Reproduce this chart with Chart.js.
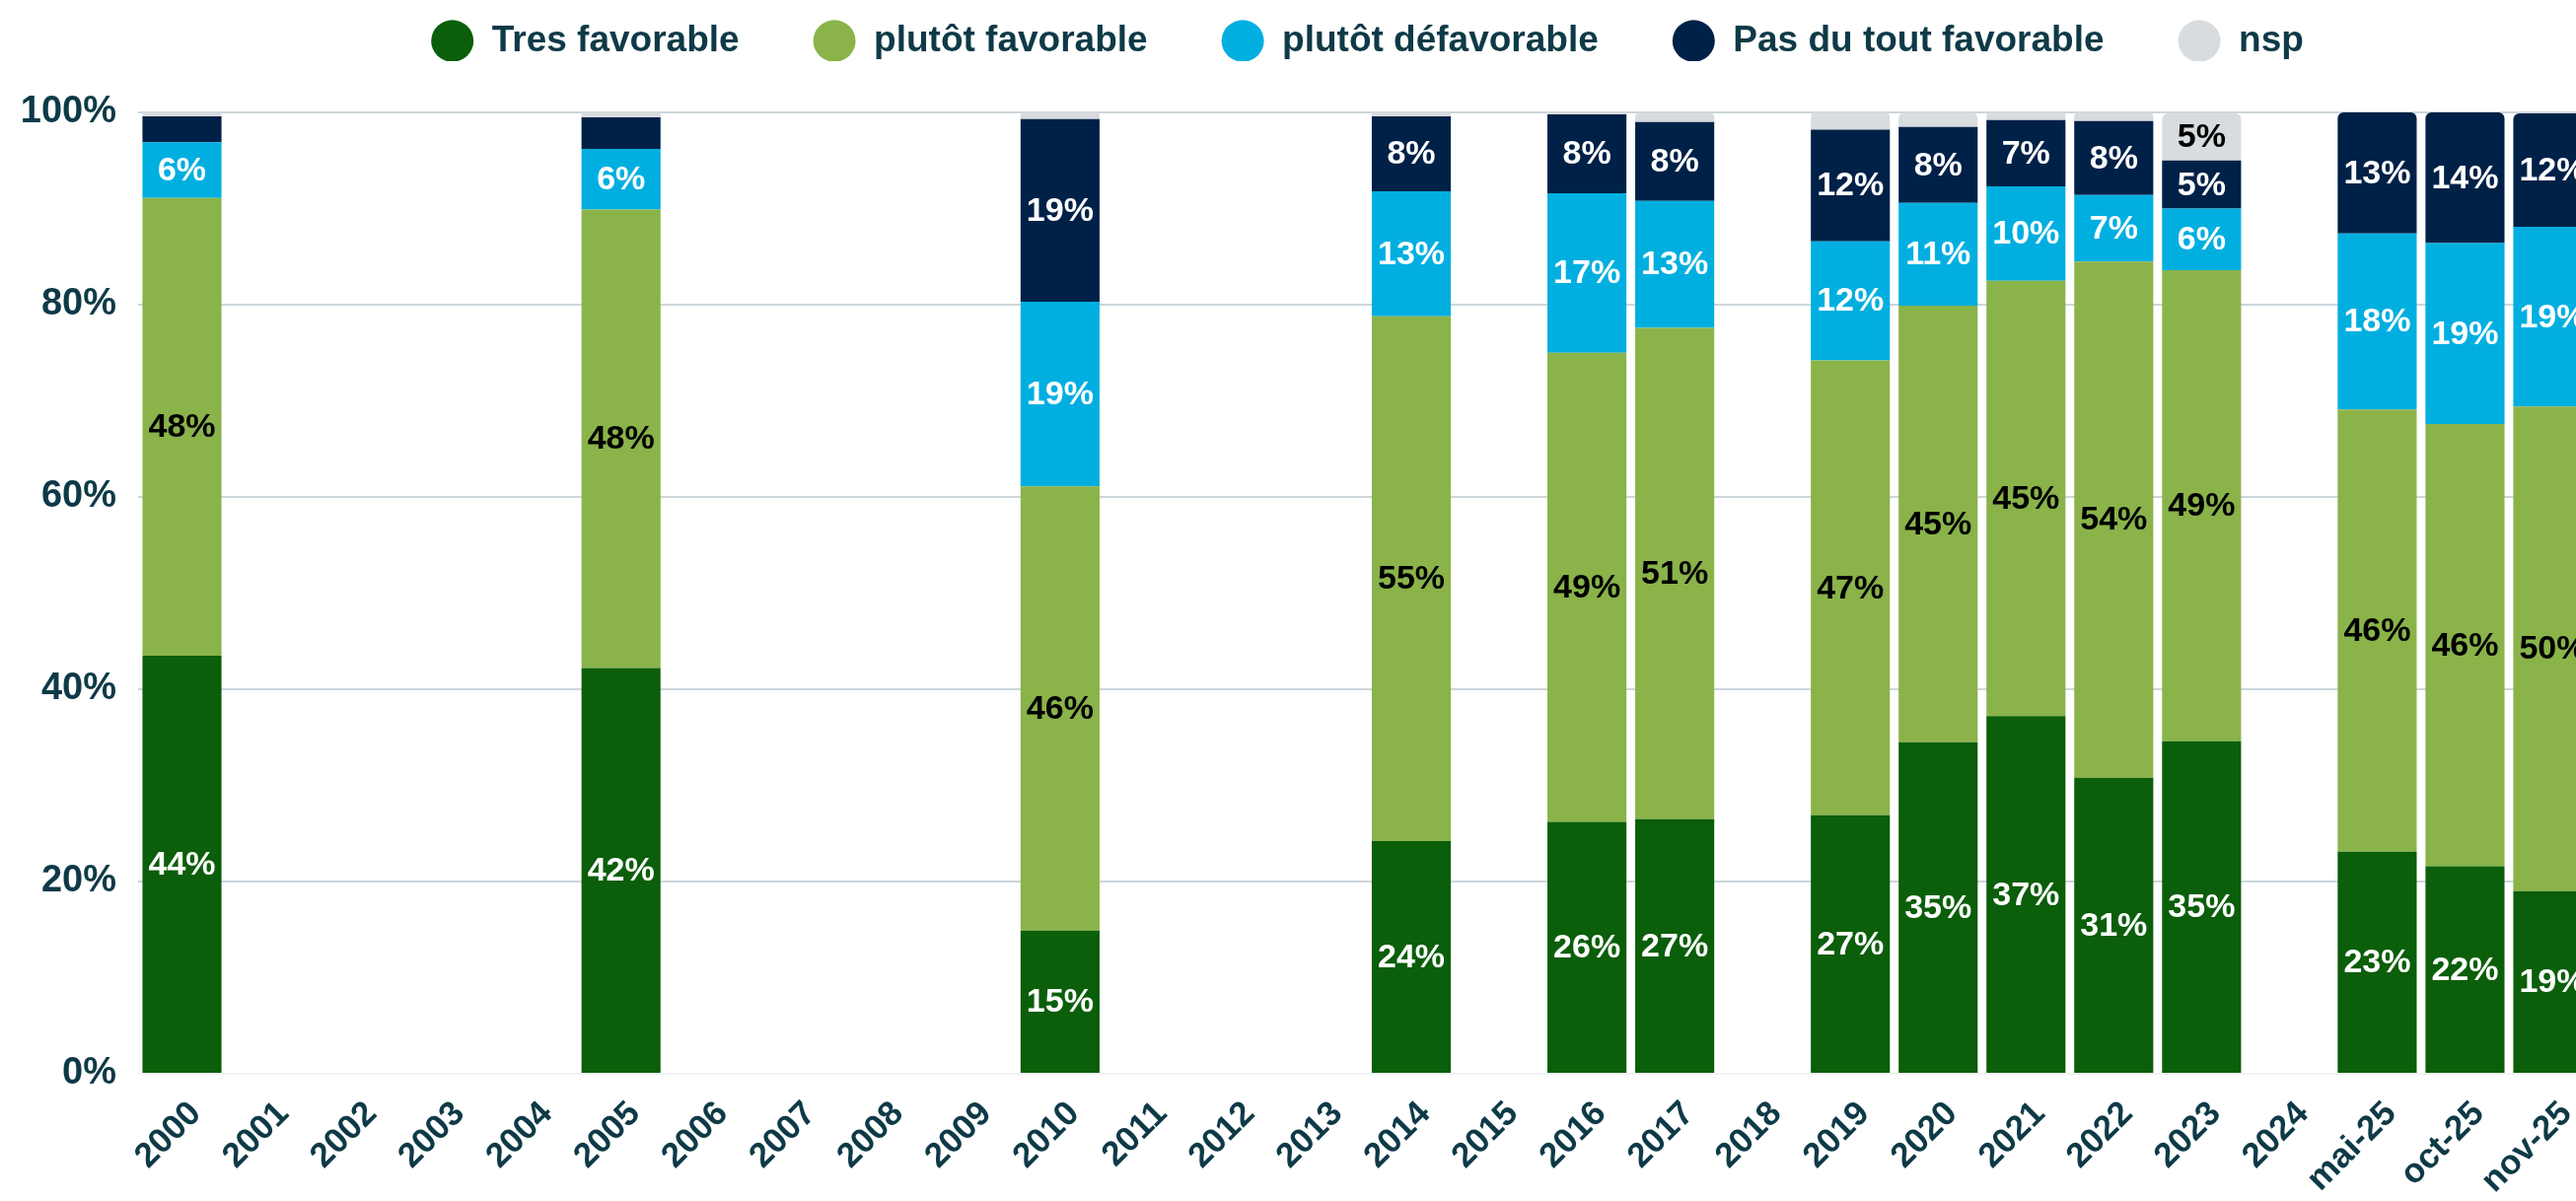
<!DOCTYPE html>
<html lang="fr">
<head>
<meta charset="utf-8">
<title>Opinion</title>
<script src="https://cdn.jsdelivr.net/npm/chart.js@4"></script>
<style>
    html, body { margin: 0; padding: 0; background: #ffffff; overflow: hidden; }
    canvas { display: block; }
</style>
</head>
<body>
<canvas id="opinionChart" width="2633" height="1218"></canvas>
<script>
// Categories
const years = ['2000', '2001', '2002', '2003', '2004', '2005', '2006', '2007', '2008', '2009',
    '2010', '2011', '2012', '2013', '2014', '2015', '2016', '2017', '2018', '2019',
    '2020', '2021', '2022', '2023', '2024', 'mai-25', 'oct-25', 'nov-25'];

// Series values (%)
const tresFavorable = [43.5, null, null, null, null, 42.2, null, null, null, null,
    14.9, null, null, null, 24.2, null, 26.2, 26.5, null, 26.9,
    34.5, 37.2, 30.8, 34.6, null, 23.1, 21.6, 19.0];
const plutotFavorable = [47.6, null, null, null, null, 47.7, null, null, null, null,
    46.2, null, null, null, 54.6, null, 48.8, 51.1, null, 47.3,
    45.4, 45.3, 53.7, 49.0, null, 46.0, 46.0, 50.4];
const plutotDefavorable = [5.8, null, null, null, null, 6.3, null, null, null, null,
    19.2, null, null, null, 13.0, null, 16.6, 13.2, null, 12.4,
    10.7, 9.8, 6.9, 6.4, null, 18.3, 18.8, 18.7];
const pasDuTout = [2.7, null, null, null, null, 3.3, null, null, null, null,
    19.0, null, null, null, 7.8, null, 8.2, 8.2, null, 11.6,
    7.9, 6.9, 7.7, 5.0, null, 12.6, 13.6, 11.8];
const nsp = [0.4, null, null, null, null, 0.5, null, null, null, null,
    0.7, null, null, null, 0.5, null, 0.3, 1.0, null, 1.9,
    1.5, 0.8, 0.9, 4.9, null, 0, 0, 0];

// Y axis ticks
const yTicks = [0, 20, 40, 60, 80, 100];

const FONT = '"Liberation Sans", Arial, sans-serif';
const TEXT = '#0e3a47';
const labelColors = ['#ffffff', '#000000', '#ffffff', '#ffffff', '#000000'];
const topRound = { topLeft: 6, topRight: 6, bottomLeft: 0, bottomRight: 0 };

// Value labels drawn in the middle of each segment
const barLabels = {
    id: 'barLabels',
    afterDatasetsDraw(chart) {
        const c = chart.ctx;
        c.save();
        c.font = 'bold 34px ' + FONT;
        c.textAlign = 'center';
        c.textBaseline = 'middle';
        chart.data.datasets.forEach((ds, i) => {
            const meta = chart.getDatasetMeta(i);
            meta.data.forEach((bar, j) => {
                const v = ds.data[j];
                if (v == null || v < 4.5) return;
                c.fillStyle = labelColors[i];
                c.fillText(Math.round(v) + '%', bar.x, (bar.y + bar.base) / 2 + 1);
            });
        });
        c.restore();
    }
};

// Legend: fixed height, spacing between items, moved up
const legendSpace = {
    id: 'legendSpace',
    beforeInit(chart) {
        const fit = chart.legend.fit;
        chart.legend.fit = function () {
            fit.bind(chart.legend)();
            this.height = 114;
        };
    },
    afterLayout(chart) {
        chart.legend.top -= 52;
        chart.legend.bottom -= 52;
    }
};

document.addEventListener("DOMContentLoaded", function () {
    const ctx = document.getElementById('opinionChart').getContext('2d');
    new Chart(ctx, {
        type: 'bar',
        data: {
            labels: years,
            datasets: [
                { label: 'Tres favorable', backgroundColor: '#0b5e0a', data: tresFavorable },
                { label: 'plutôt favorable', backgroundColor: '#8ab34a', data: plutotFavorable },
                { label: 'plutôt défavorable', backgroundColor: '#00afe0', data: plutotDefavorable },
                { label: 'Pas du tout favorable', backgroundColor: '#002147', data: pasDuTout,
                  borderRadius: c => nsp[c.dataIndex] ? 0 : topRound },
                { label: 'nsp', backgroundColor: '#d9dcdf', data: nsp, borderRadius: topRound }
            ]
        },
        options: {
            responsive: false,
            devicePixelRatio: 1,
            animation: false,
            layout: { padding: 0 },
            datasets: { bar: { categoryPercentage: 1, barPercentage: 0.9 } },
            plugins: {
                tooltip: { enabled: false },
                legend: {
                    position: 'top',
                    fullSize: false,
                    labels: {
                        usePointStyle: true,
                        pointStyle: 'circle',
                        pointStyleWidth: 43,
                        boxHeight: 30,
                        padding: 75,
                        color: TEXT,
                        font: { family: FONT, size: 37, weight: 'bold' }
                    }
                }
            },
            scales: {
                x: {
                    stacked: true,
                    grid: { display: false },
                    border: { display: false },
                    ticks: {
                        autoSkip: false,
                        maxRotation: 45,
                        minRotation: 45,
                        padding: 12,
                        labelOffset: 14,
                        color: TEXT,
                        font: { family: FONT, size: 35, weight: 'bold' }
                    },
                    afterFit(scale) { scale.height = 129; }
                },
                y: {
                    stacked: true,
                    min: 0,
                    max: 100,
                    afterBuildTicks(scale) { scale.ticks = yTicks.map(v => ({ value: v })); },
                    grid: {
                        drawTicks: false,
                        lineWidth: 2,
                        color: c => c.tick && c.tick.value === 0 ? '#f1f3f4' : '#cdd6db'
                    },
                    border: { display: false },
                    ticks: {
                        padding: 22,
                        color: TEXT,
                        font: { family: FONT, size: 38, weight: 'bold' },
                        callback: v => v + '%'
                    },
                    afterFit(scale) { scale.width = 140; }
                }
            }
        },
        plugins: [barLabels, legendSpace]
    });
});
</script>
</body>
</html>
